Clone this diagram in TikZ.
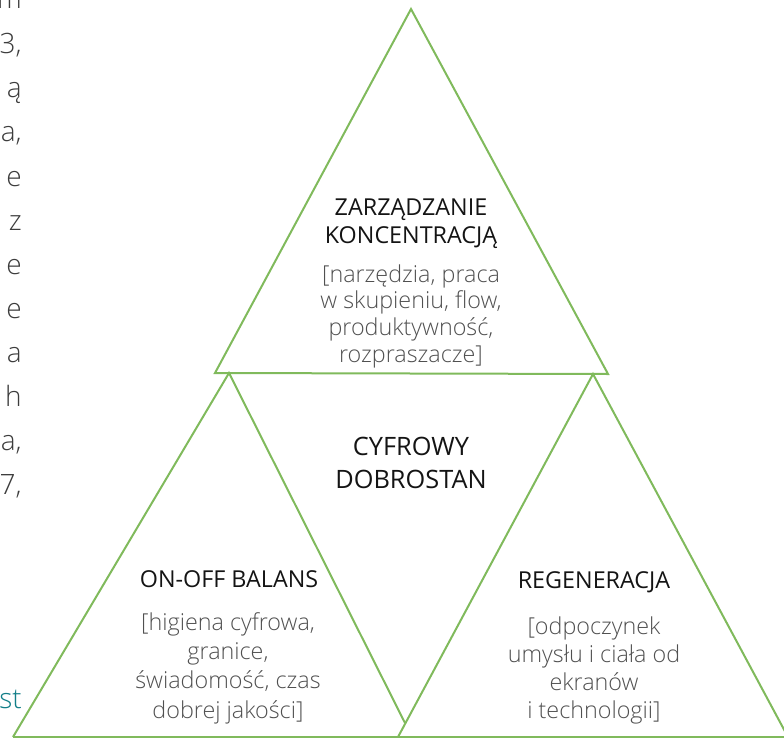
\documentclass[tikz,border=0pt]{standalone}
\usepackage{fontspec}
\setmainfont{Open Sans}
\newfontfamily\lightfont{Open Sans Light}
\usepackage{tikz}

\definecolor{trigreen}{RGB}{128,186,92}
\definecolor{headgray}{RGB}{20,20,20}
\definecolor{bodygray}{RGB}{80,80,80}
\definecolor{fraggray}{RGB}{60,60,60}
\definecolor{linkteal}{RGB}{18,126,136}

\begin{document}
\begin{tikzpicture}[x=0.75pt,y=-0.75pt,
  edge/.style={draw=trigreen,line width=1.5pt,line join=miter},
  head/.style={text=headgray,font=\fontsize{17.5}{21}\selectfont,align=center,anchor=base,inner sep=0pt},
  bighead/.style={head,font=\fontsize{19}{24.75}\selectfont},
  body/.style={text=bodygray,font=\lightfont\fontsize{17.5}{21}\selectfont,align=center,anchor=base,inner sep=0pt},
  frag/.style={text=fraggray,font=\lightfont\fontsize{21}{28}\selectfont,anchor=base east,inner sep=0pt}]
\useasboundingbox (0,0) rectangle (784,738);
\clip (0,0) rectangle (784,738);

\coordinate (topapex) at (411,9);
\coordinate (topleft) at (215,373);
\coordinate (topright) at (608,374);
\coordinate (leftapex) at (229,373);
\coordinate (leftfoot) at (13,737);
\coordinate (leftmeet) at (405,723);
\coordinate (rightapex) at (593,374);
\coordinate (rightfoot) at (398,737);
\coordinate (rightend) at (788,737);
\coordinate (baseend) at (790,737);

\draw[edge] (topleft) -- (topapex) -- (topright) -- cycle;
\draw[edge] (leftfoot) -- (leftapex) -- (leftmeet);
\draw[edge] (rightfoot) -- (rightapex) -- (rightend);
\draw[edge] (leftfoot) -- (baseend);

\node[head] (focushead) at (411,243) {ZARZĄDZANIE\\KONCENTRACJĄ};
\node[body,font=\lightfont\fontsize{17.5}{20}\selectfont] (focusbody) at (411,362) {[narzędzia, praca\\w skupieniu, flow,\\produktywność,\\rozpraszacze]};
\node[bighead] (wellbeing) at (411,488) {CYFROWY\\DOBROSTAN};
\node[head] (balancehead) at (229,587) {ON-OFF BALANS};
\node[body,font=\lightfont\fontsize{17.5}{22}\selectfont] (balancebody) at (228,718) {[higiena cyfrowa,\\granice,\\świadomość, czas\\dobrej jakości]};
\node[head] (regenhead) at (594,588) {REGENERACJA};
\node[body] (regenbody) at (594,718) {[odpoczynek\\umysłu i ciała od\\ekranów\\i technologii]};

\foreach \y/\t [count=\i] in {9/m, 54/{3,}, 98/ą, 142/{a,}, 186/e, 230/z, 274/e, 318/e,
                              362/a, 406/h, 450/{a,}, 494/{7,}}
  \node[frag] (frag\i) at (22,\y) {\t};
\node[frag,text=linkteal] (link) at (22,708) {st};

\end{tikzpicture}
\end{document}
